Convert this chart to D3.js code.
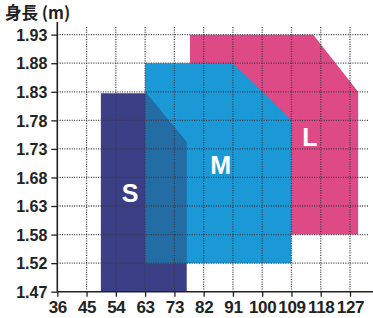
<!DOCTYPE html>
<html><head><meta charset="utf-8">
<script src="https://cdn.jsdelivr.net/npm/d3@7"></script>
<style>html,body{margin:0;padding:0;background:#fff;}svg{display:block;}</style>
</head><body>
<svg id="c" width="373" height="318"></svg>
<script>
const xTicks = [36,45,54,63,73,82,91,100,109,118,127];
const yTicks = [1.47,1.52,1.58,1.63,1.68,1.73,1.78,1.83,1.88,1.93];
const yTickLabels = ["1.47","1.52","1.58","1.63","1.68","1.73","1.78","1.83","1.88","1.93"];
const sizes = ["S","M","L"];
const S_kg = [49.4, 63.5, 76.8, 76.8, 49.4];
const S_m  = [1.8275, 1.8275, 1.742, 1.47, 1.47];
const M_kg = [63, 91, 109, 109, 63];
const M_m  = [1.88, 1.88, 1.78, 1.52, 1.52];
const L_kg = [77.8, 115.7, 129.5, 129.5, 77.8];
const L_m  = [1.93, 1.93, 1.83, 1.58, 1.58];
const labelKg = [58.4, 87.2, 114.7];
const labelM  = [1.637, 1.686, 1.735];
const title = "身長 (m)";

const x0 = 57.3, xStep = 29.27, y0 = 291.7, yStep = 28.56;
const x = d3.scaleLinear().domain(xTicks).range(xTicks.map((d,i)=>x0+i*xStep));
const y = d3.scaleLinear().domain(yTicks).range(yTicks.map((d,i)=>y0-i*yStep));

const svg = d3.select("#c");
const line = d3.line().x(d=>x(d[0])).y(d=>y(d[1]));
const poly = (kg,m)=> line(kg.map((k,i)=>[k,m[i]])) + "Z";

const colors = {S:"#3b3f86", M:"#1b98d6", L:"#dd4a85", SM:"#236ca4"};
svg.append("defs").append("clipPath").attr("id","mclip")
  .append("path").attr("d", poly(M_kg,M_m));

svg.append("path").attr("d", poly(L_kg,L_m)).attr("fill",colors.L);
svg.append("path").attr("d", poly(S_kg,S_m)).attr("fill",colors.S);
svg.append("path").attr("d", poly(M_kg,M_m)).attr("fill",colors.M);
svg.append("path").attr("d", poly(S_kg,S_m)).attr("fill",colors.SM).attr("clip-path","url(#mclip)");

// grid
const g = svg.append("g").attr("stroke","#3a3a48").attr("stroke-width",1.3).attr("stroke-dasharray","1,1.4");
g.selectAll("line.v").data(xTicks.slice(1)).join("line")
  .attr("x1",d=>x(d)).attr("x2",d=>x(d)).attr("y1",27).attr("y2",y0);
g.selectAll("line.h").data(yTicks.slice(1)).join("line")
  .attr("y1",d=>y(d)).attr("y2",d=>y(d)).attr("x1",x0).attr("x2",368);

// axes
const xAxis = d3.axisBottom(x).tickValues(xTicks).tickSize(5).tickPadding(4).tickFormat(d3.format("d"));
const yAxis = d3.axisLeft(y).tickValues(yTicks).tickSize(6).tickPadding(4).tickFormat((d,i)=>yTickLabels[i]);
const gx = svg.append("g").attr("transform",`translate(0,${y0})`).call(xAxis);
gx.select(".domain").remove();
svg.append("line").attr("x1",x0).attr("x2",373).attr("y1",y0).attr("y2",y0).attr("stroke","#222").attr("stroke-width",1.6);
const gy = svg.append("g").attr("transform",`translate(${x0},0)`).call(yAxis);
gy.select(".domain").remove();
svg.append("line").attr("x1",x0).attr("x2",x0).attr("y1",22).attr("y2",y0).attr("stroke","#222").attr("stroke-width",1.6);
[gx,gy].forEach(a=>{
  a.selectAll(".tick line").attr("stroke","#222").attr("stroke-width",1.3);
  a.selectAll("text").attr("fill","#222").attr("font-family","'Liberation Sans',Arial,sans-serif").attr("font-weight","bold");
});
gx.selectAll("text").attr("font-size",17).attr("letter-spacing","-0.3px");
gy.selectAll("text").attr("font-size",16).attr("dy","0.36em");

svg.append("text").attr("x",5).attr("y",19).text(title)
  .attr("font-family","'Noto Sans CJK JP','Liberation Sans',sans-serif").attr("font-weight","bold")
  .attr("font-size",16.5).attr("fill","#222");

svg.selectAll("text.lab").data(sizes).join("text").attr("class","lab")
  .attr("x",(d,i)=>x(labelKg[i])).attr("y",(d,i)=>y(labelM[i]))
  .attr("text-anchor","middle").attr("fill","#fff")
  .attr("font-family","'Liberation Sans',Arial,sans-serif").attr("font-weight","bold").attr("font-size",25)
  .text(d=>d);
</script>
</body></html>
